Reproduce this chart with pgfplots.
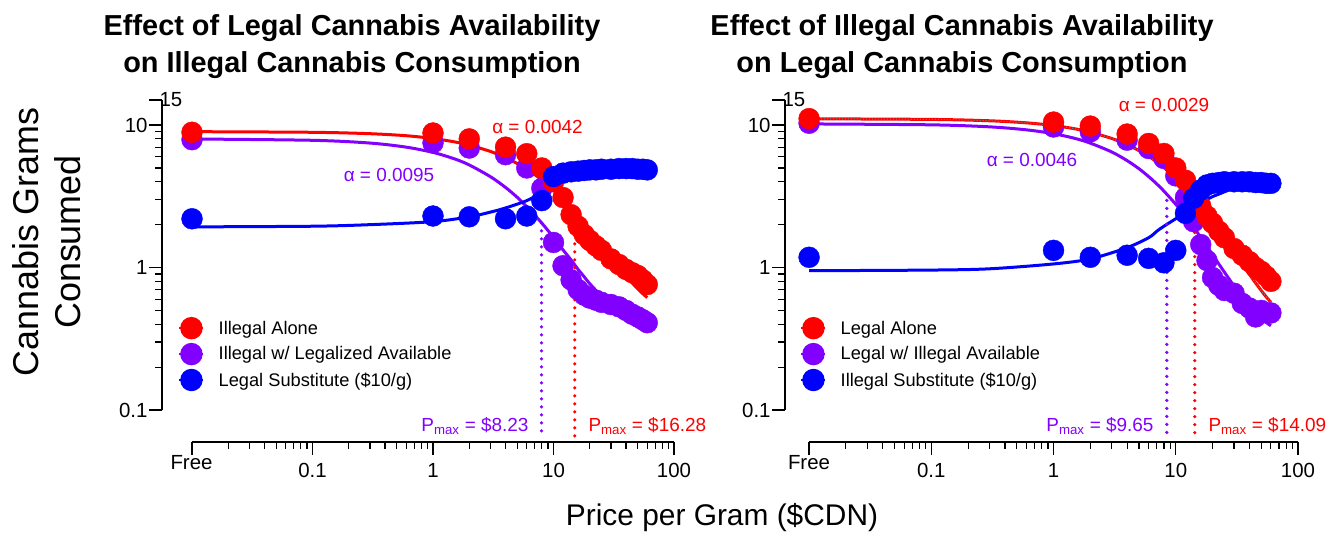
\documentclass[border=0pt]{standalone}
\usepackage{fontspec}
\setmainfont{Liberation Sans}
\usepackage{pgfplots}
\pgfplotsset{compat=1.18}
\definecolor{cred}{RGB}{255,0,0}
\definecolor{cpur}{RGB}{130,0,255}
\definecolor{cblu}{RGB}{0,0,255}
\tikzset{
 mycurve/.style={line width=3bp, smooth},
 myptsr/.style={only marks, mark=*, mark size=10.5pt, draw=cred, fill=cred, color=cred},
 myptsp/.style={only marks, mark=*, mark size=10.5pt, draw=cpur, fill=cpur, color=cpur},
 myptsb/.style={only marks, mark=*, mark size=10.5pt, draw=cblu, fill=cblu, color=cblu},
 mypmax/.style={line width=3.6bp, dash pattern=on 0bp off 8bp, line cap=round},
}
\begin{document}
\begin{tikzpicture}
\useasboundingbox (0,0) rectangle (1336bp,538bp);
% ---------------- LEFT ----------------
\begin{axis}[xmode=log, ymode=log, scale only axis, height=342bp,
  ymin=0.05963, ymax=15,
  axis x line*=bottom, axis y line*=left,
  axis line style={draw=none},
  tick align=outside,
  xtick={0.01,0.1,1,10,100}, xticklabels={,0.1,1,10,100},
  minor xtick={0.02,0.03,0.04,0.05,0.06,0.07,0.08,0.09,0.2,0.3,0.4,0.5,0.6,0.7,0.8,0.9,2,3,4,5,6,7,8,9,20,30,40,50,60,70,80,90},
  ytick={0.1,1,10}, yticklabels={0.1,1,10},
  extra y ticks={15}, extra y tick labels={},
  minor ytick={0.2,0.3,0.4,0.5,0.6,0.7,0.8,0.9,2,3,4,5,6,7,8,9},
  major tick length=13bp, minor tick length=7bp,
  tick style={black, line width=1.2bp},
  ticklabel style={font=\fontsize{20.5}{24}\selectfont},
  xticklabel style={yshift=-5bp},
  yticklabel style={xshift=2bp},
  clip=false,
  legend cell align=left,
  legend image code/.code={\draw[mark repeat=2,mark phase=2,#1] plot coordinates {(0bp,0bp) (12bp,0bp) (24bp,0bp)};},
  legend style={draw=none, fill=none, font=\fontsize{18.3}{21}\selectfont, row sep=6bp, column sep=14bp, inner sep=0pt, nodes={inner sep=0pt}, at={(0.03125,0.3626)}, anchor=north west},
  at={(162bp,96bp)}, anchor=south west, width=512bp, xmin=0.005636, xmax=100]
\addlegendimage{cred, line width=2.5bp, mark=*, mark size=10pt, mark options={fill=cred}}
\addlegendimage{cpur, line width=2.5bp, mark=*, mark size=10pt, mark options={fill=cpur}}
\addlegendimage{cblu, line width=2.5bp, mark=*, mark size=10pt, mark options={fill=cblu}}
\legend{Illegal Alone, Illegal w/ Legalized Available, Legal Substitute (\$10/g)}
% fitted curves
\addplot[cred, mycurve] coordinates {(0.01,8.99) (0.1,8.90) (0.3,8.70) (0.6,8.42) (1,8.05) (1.5,7.63) (2,7.24) (3,6.53) (4,5.91) (5,5.37) (6,4.90) (7,4.49) (8,4.12) (10,3.51) (12,3.02) (14,2.63) (16,2.31) (18,2.05) (20,1.84) (23,1.58) (26,1.38) (30,1.18) (35,1.00) (40,0.873) (45,0.779) (50,0.709) (55,0.656) (60,0.615)};
\addplot[cpur, mycurve] coordinates {(0.01,7.99) (0.1,7.82) (0.3,7.48) (0.6,7.00) (1,6.43) (1.5,5.80) (2,5.25) (3,4.34) (4,3.65) (5,3.11) (6,2.67) (7,2.33) (8,2.05) (10,1.63) (12,1.33) (14,1.13) (16,0.97) (18,0.86) (20,0.77) (25,0.63) (30,0.545) (35,0.494) (40,0.462) (50,0.429) (60,0.413)};
\addplot[cblu, mycurve] coordinates {(0.01,1.93) (0.1,1.95) (0.3,2.0) (1,2.1) (2,2.27) (3,2.45) (4,2.62) (6,2.95) (8,3.35) (9,3.6) (10,3.95) (11,4.3) (12,4.55) (13,4.7) (15,4.85) (20,4.93) (30,4.95) (60,4.95)};
% Pmax lines
\addplot[cpur, mypmax] coordinates {(7.95,2.06) (7.95,0.065)};
\addplot[cred, mypmax] coordinates {(15.0,2.46) (15.0,0.065)};
% data
\addplot[myptsp] coordinates {(0.01,7.9) (1,7.5) (2,6.9) (4,6.2) (6,5.0) (8,3.6) (10,1.5) (12,1.03) (14,0.82) (16,0.70) (18,0.64) (20,0.61) (22.5,0.59) (25,0.57) (30,0.55) (35,0.53) (40,0.50) (45,0.47) (50,0.45) (55,0.43) (60,0.41)};
\addplot[myptsr] coordinates {(0.01,8.9) (1,8.8) (2,8.0) (4,7.0) (6,6.3) (8,5.0) (10,4.0) (12,3.1) (14,2.35) (16,1.95) (18,1.7) (20,1.55) (22.5,1.42) (25,1.32) (30,1.15) (35,1.05) (40,0.97) (45,0.92) (50,0.88) (55,0.82) (60,0.76)};
\addplot[myptsb] coordinates {(0.01,2.2) (1,2.3) (2,2.27) (4,2.2) (6,2.3) (8,2.95) (10,4.35) (12,4.6) (14,4.7) (16,4.75) (18,4.8) (20,4.85) (22.5,4.85) (25,4.9) (30,4.9) (35,4.95) (40,4.95) (45,4.95) (50,4.9) (55,4.9) (60,4.85)};
% axis lines
\draw[line width=1.2bp] (axis cs:0.01,0.05963) -- (axis cs:100,0.05963);
\draw[line width=1.2bp] (axis cs:0.005636,0.1) -- (axis cs:0.005636,15);
\end{axis}
% ---------------- RIGHT ----------------
\begin{axis}[xmode=log, ymode=log, scale only axis, height=342bp,
  ymin=0.05963, ymax=15,
  axis x line*=bottom, axis y line*=left,
  axis line style={draw=none},
  tick align=outside,
  xtick={0.01,0.1,1,10,100}, xticklabels={,0.1,1,10,100},
  minor xtick={0.02,0.03,0.04,0.05,0.06,0.07,0.08,0.09,0.2,0.3,0.4,0.5,0.6,0.7,0.8,0.9,2,3,4,5,6,7,8,9,20,30,40,50,60,70,80,90},
  ytick={0.1,1,10}, yticklabels={0.1,1,10},
  extra y ticks={15}, extra y tick labels={},
  minor ytick={0.2,0.3,0.4,0.5,0.6,0.7,0.8,0.9,2,3,4,5,6,7,8,9},
  major tick length=13bp, minor tick length=7bp,
  tick style={black, line width=1.2bp},
  ticklabel style={font=\fontsize{20.5}{24}\selectfont},
  xticklabel style={yshift=-5bp},
  yticklabel style={xshift=2bp},
  clip=false,
  legend cell align=left,
  legend image code/.code={\draw[mark repeat=2,mark phase=2,#1] plot coordinates {(0bp,0bp) (12bp,0bp) (24bp,0bp)};},
  legend style={draw=none, fill=none, font=\fontsize{18.3}{21}\selectfont, row sep=6bp, column sep=14bp, inner sep=0pt, nodes={inner sep=0pt}, at={(0.0292,0.3626)}, anchor=north west},
  at={(785bp,96bp)}, anchor=south west, width=513bp, xmin=0.006353, xmax=100]
\addlegendimage{cred, line width=2.5bp, mark=*, mark size=10pt, mark options={fill=cred}}
\addlegendimage{cpur, line width=2.5bp, mark=*, mark size=10pt, mark options={fill=cpur}}
\addlegendimage{cblu, line width=2.5bp, mark=*, mark size=10pt, mark options={fill=cblu}}
\legend{Legal Alone, Legal w/ Illegal Available, Illegal Substitute (\$10/g)}
\addplot[cred, mycurve] coordinates {(0.01,11.07) (0.1,10.96) (0.3,10.72) (0.6,10.37) (1,9.93) (1.5,9.41) (2,8.92) (3,8.05) (4,7.29) (5,6.62) (6,6.03) (7,5.51) (8,5.04) (10,4.27) (12,3.65) (14,3.15) (16,2.74) (18,2.41) (20,2.14) (25,1.63) (30,1.29) (35,1.06) (40,0.899) (45,0.779) (50,0.690) (55,0.622) (60,0.570)};
\addplot[gray, line width=1bp, dotted, smooth] coordinates {(0.01,11.07) (0.1,10.96) (0.3,10.72) (0.6,10.37) (1,9.93) (1.5,9.41) (2,8.92) (3,8.05) (4,7.29) (5,6.62) (6,6.03) (7,5.51) (8,5.04) (10,4.27) (12,3.65) (14,3.15) (16,2.74) (18,2.41) (20,2.14) (25,1.63) (30,1.29) (35,1.06) (40,0.899) (45,0.779) (50,0.690) (55,0.622) (60,0.570)};
\addplot[cpur, mycurve] coordinates {(0.01,10.19) (0.1,10.04) (0.3,9.72) (0.6,9.26) (1,8.70) (1.5,8.06) (2,7.47) (3,6.47) (4,5.63) (5,4.94) (6,4.35) (7,3.86) (8,3.44) (10,2.78) (12,2.29) (14,1.92) (16,1.63) (18,1.41) (20,1.23) (25,0.928) (30,0.741) (35,0.620) (40,0.539) (45,0.482) (50,0.442) (55,0.412) (60,0.390)};
\addplot[cblu, mycurve] coordinates {(0.01,0.95) (0.1,0.96) (0.3,0.98) (1,1.06) (2,1.15) (4,1.38) (6,1.62) (7,1.8) (8,1.95) (10,2.2) (12,2.4) (14,2.65) (16,2.85) (18,3.0) (20,3.15) (23,3.3) (26,3.45) (30,3.6) (35,3.72) (45,3.85) (60,3.92)};
\addplot[cpur, mypmax] coordinates {(8.45,2.96) (8.45,0.065)};
\addplot[cred, mypmax] coordinates {(14.3,2.95) (14.3,0.065)};
\addplot[myptsp] coordinates {(0.01,10.3) (1,9.7) (2,8.97) (4,7.84) (6,6.85) (8,5.83) (10,4.4) (12,3.1) (14,2.1) (16,1.45) (18,1.12) (20,0.85) (22.5,0.75) (25,0.69) (30,0.66) (35,0.56) (40,0.52) (45,0.45) (50,0.50) (55,0.48) (60,0.48)};
\addplot[myptsr] coordinates {(0.01,11.1) (1,10.5) (2,9.84) (4,8.65) (6,7.43) (8,6.32) (10,5.0) (12,4.1) (14,3.4) (16,2.7) (18,2.3) (20,2.05) (22.5,1.8) (25,1.62) (30,1.36) (35,1.22) (40,1.1) (45,1.0) (50,0.94) (55,0.87) (60,0.8)};
\addplot[myptsb] coordinates {(0.01,1.18) (1,1.32) (2,1.18) (4,1.22) (6,1.16) (8,1.08) (10,1.32) (12,2.4) (14,3.06) (16,3.5) (18,3.8) (20,3.9) (22.5,3.95) (25,4.0) (30,4.0) (35,4.0) (40,4.0) (45,3.95) (50,3.95) (55,3.9) (60,3.9)};
\draw[line width=1.2bp] (axis cs:0.01,0.05963) -- (axis cs:100,0.05963);
\draw[line width=1.2bp] (axis cs:0.006353,0.1) -- (axis cs:0.006353,15);
\end{axis}
% ---------------- TEXT ----------------
\node[font=\fontsize{20.5}{24}\selectfont, anchor=west] at (156bp,438bp) {15};
\node[font=\fontsize{20.5}{24}\selectfont, anchor=west] at (779bp,438bp) {15};
\node[font=\fontsize{20.5}{24}\selectfont] at (191.5bp,75bp) {Free};
\node[font=\fontsize{20.5}{24}\selectfont] at (809bp,75bp) {Free};
\node[font=\fontsize{29}{37}\selectfont\bfseries, align=center, anchor=north] at (352bp,527bp) {Effect of Legal Cannabis Availability\\on Illegal Cannabis Consumption};
\node[font=\fontsize{29}{37}\selectfont\bfseries, align=center, anchor=north] at (962bp,527bp) {Effect of Illegal Cannabis Availability\\on Legal Cannabis Consumption};
\node[font=\fontsize{36}{42}\selectfont, align=center, rotate=90] at (47bp,296bp) {Cannabis Grams\\Consumed};
\node[font=\fontsize{30}{36}\selectfont] at (722bp,20bp) {Price per Gram (\$CDN)};
\node[font=\fontsize{19}{21}\selectfont, text=cred] at (537.5bp,411bp) {α = 0.0042};
\node[font=\fontsize{19}{21}\selectfont, text=cpur] at (389bp,363bp) {α = 0.0095};
\node[font=\fontsize{19}{21}\selectfont, text=cred] at (1164bp,433bp) {α = 0.0029};
\node[font=\fontsize{19}{21}\selectfont, text=cpur] at (1032bp,378bp) {α = 0.0046};
\node[font=\fontsize{19}{21}\selectfont, text=cpur, anchor=base east] at (532bp,106bp) {P\textsubscript{max} = \$8.23};
\node[font=\fontsize{19}{21}\selectfont, text=cred, anchor=base west] at (585bp,106bp) {P\textsubscript{max} = \$16.28};
\node[font=\fontsize{19}{21}\selectfont, text=cpur, anchor=base east] at (1157bp,106bp) {P\textsubscript{max} = \$9.65};
\node[font=\fontsize{19}{21}\selectfont, text=cred, anchor=base west] at (1205bp,106bp) {P\textsubscript{max} = \$14.09};
\end{tikzpicture}
\end{document}
